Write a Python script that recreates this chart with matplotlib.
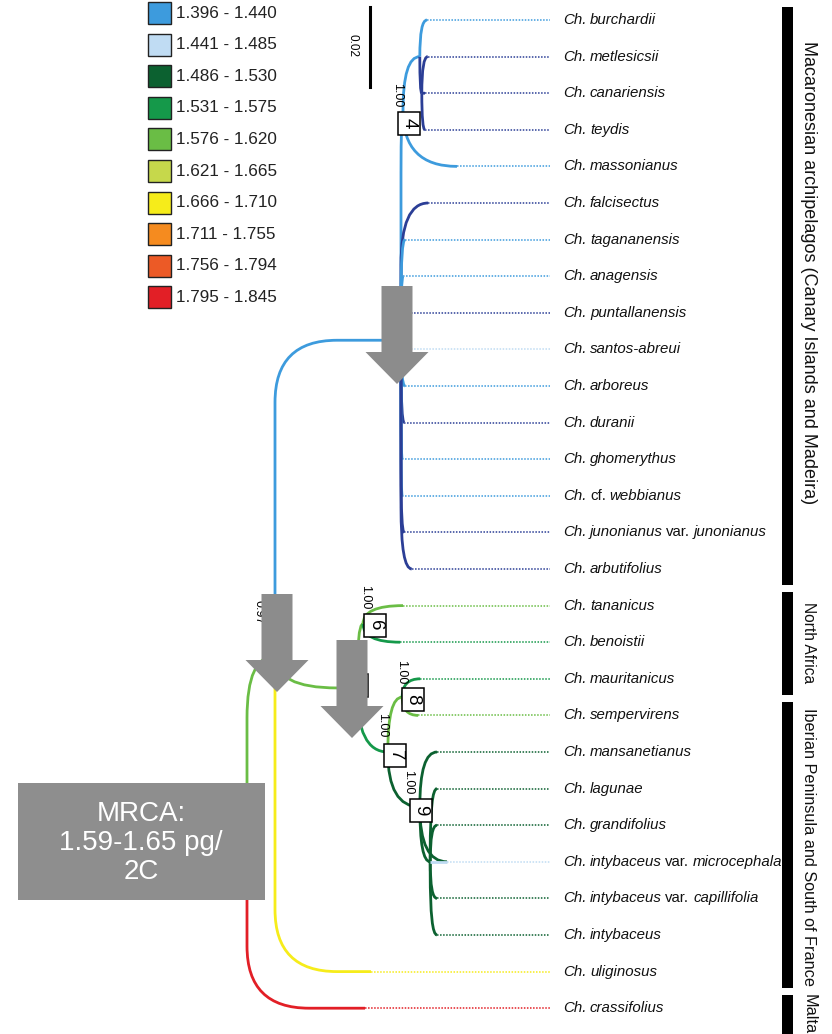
import matplotlib
matplotlib.use('Agg')
import matplotlib.pyplot as plt
from matplotlib.path import Path
from matplotlib.patches import PathPatch, Rectangle, Polygon

# ---- colour classes (genome size, pg/2C)
legend_labels = ['1.396 - 1.440', '1.441 - 1.485', '1.486 - 1.530', '1.531 - 1.575',
                 '1.576 - 1.620', '1.621 - 1.665', '1.666 - 1.710', '1.711 - 1.755',
                 '1.756 - 1.794', '1.795 - 1.845']
legend_colors = ['#3d9bdd', '#c0dcf3', '#0c6130', '#15994a', '#6abd45',
                 '#c6d84b', '#f6ec1a', '#f58b1f', '#ec5a26', '#e21f26']
NAVY = '#2b3e96'
BLUE, LBLUE, DKGREEN, GREEN, LGREEN = legend_colors[:5]
YELLOW, RED = legend_colors[6], legend_colors[9]

# ---- tips, top to bottom
tip_labels = ['Ch. burchardii', 'Ch. metlesicsii', 'Ch. canariensis', 'Ch. teydis',
              'Ch. massonianus', 'Ch. falcisectus', 'Ch. tagananensis', 'Ch. anagensis',
              'Ch. puntallanensis', 'Ch. santos-abreui', 'Ch. arboreus', 'Ch. duranii',
              'Ch. ghomerythus', 'Ch. cf. webbianus', 'Ch. junonianus var. junonianus',
              'Ch. arbutifolius', 'Ch. tananicus', 'Ch. benoistii', 'Ch. mauritanicus',
              'Ch. sempervirens', 'Ch. mansanetianus', 'Ch. lagunae', 'Ch. grandifolius',
              'Ch. intybaceus var. microcephala', 'Ch. intybaceus var. capillifolia',
              'Ch. intybaceus', 'Ch. uliginosus', 'Ch. crassifolius']
tip_parent = ['n4a', 'd4', 'd4', 'd4', 'n4', 'mac', 'mac', 'mac', 'mac', 'mac', 'mac',
              'mac', 'mac', 'mac', 'mac', 'mac', 'n6', 'n6', 'n8', 'n8', 'n9', 'n9b',
              'n9b', 'n9', 'n9b', 'n9b', 'A', 'root']
tip_depth = [0.0450, 0.0452, 0.0445, 0.0445, 0.0525, 0.0453, 0.0395, 0.0390, 0.0410,
             0.0410, 0.0395, 0.0393, 0.0388, 0.0388, 0.0393, 0.0412, 0.0390, 0.0383,
             0.0433, 0.0428, 0.0475, 0.0475, 0.0475, 0.0500, 0.0475, 0.0475, 0.0310,
             0.0295]
tip_color = [BLUE, NAVY, NAVY, NAVY, BLUE, NAVY, BLUE, BLUE, NAVY, LBLUE, BLUE, NAVY,
             BLUE, BLUE, NAVY, NAVY, LGREEN, GREEN, GREEN, LGREEN, DKGREEN, DKGREEN,
             DKGREEN, LBLUE, DKGREEN, DKGREEN, YELLOW, RED]
# colour change along a branch (depth where the tip colour starts)
colour_shift = {'Ch. intybaceus var. microcephala': 0.0458}

# ---- internal nodes
node_names = ['root', 'A', 'mac', 'n4', 'n4a', 'd4', 'B', 'n6', 'n7', 'n8', 'n9', 'n9b']
node_parent = [None, 'root', 'A', 'mac', 'n4', 'n4a', 'A', 'B', 'B', 'n7', 'n7', 'n9']
node_depth = [0.0, 0.0070, 0.0385, 0.0390, 0.0432, 0.0437, 0.0275, 0.0290, 0.0352,
              0.0388, 0.0432, 0.0458]
node_color = [None, LGREEN, BLUE, BLUE, BLUE, NAVY, LGREEN, LGREEN, GREEN, LGREEN,
              DKGREEN, DKGREEN]

regions = ['Macaronesian archipelagos (Canary Islands and Madeira)', 'North Africa',
           'Iberian Peninsula and South of France', 'Malta']
region_span = [(-0.36, 15.45), (15.64, 18.45), (18.64, 26.45), (26.64, 27.8)]
region_label_y = [6.9, 17.0, 22.6, 27.15]
region_size = [13, 11.2, 11.7, 11.7]

# ---- page geometry
W, H = 832, 1034
ROOT_PX, PX_X, TOP_PX, PX_Y = 247, 4000.0, 20, 36.6
FONT = 'Liberation Sans'

fig = plt.figure(figsize=(W / 100, H / 100), dpi=100)
ax = fig.add_axes([0, 0, 1, 1])
ax.set_xlim(-ROOT_PX / PX_X, (W - ROOT_PX) / PX_X)
ax.set_ylim((H - TOP_PX) / PX_Y, -TOP_PX / PX_Y)
ax.axis('off')

# y of nodes from their children
ypos = {}
children = {n: [] for n in node_names}
for n, p in zip(node_names, node_parent):
    if p:
        children[p].append(n)
for i, p in enumerate(tip_parent):
    children[p].append(i)
    ypos[i] = i


def node_y(n):
    if n in ypos:
        return ypos[n]
    ys = [node_y(c) for c in children[n]]
    ypos[n] = (min(ys) + max(ys)) / 2
    return ypos[n]


for n in node_names:
    node_y(n)
depth = dict(zip(node_names, node_depth))


def branch(x0, y0, x1, y1, color, r=62):
    rx = min(r / PX_X, x1 - x0)
    ry = min(r / PX_Y, abs(y1 - y0))
    s = 1 if y1 >= y0 else -1
    verts = [(x0, y0), (x0, y1 - s * ry), (x0, y1), (x0 + rx, y1), (x1, y1)]
    codes = [Path.MOVETO, Path.LINETO, Path.CURVE3, Path.CURVE3, Path.LINETO]
    ax.add_patch(PathPatch(Path(verts, codes), fc='none', ec=color, lw=2.0,
                           capstyle='butt', zorder=3))


for n, p, c in zip(node_names, node_parent, node_color):
    if p:
        branch(depth[p], ypos[p], depth[n], ypos[n], c)

DOT_END, LABEL_X = 0.0757, 0.0790
for i, p in enumerate(tip_parent):
    c = tip_color[i]
    shift = colour_shift.get(tip_labels[i])
    branch(depth[p], ypos[p], tip_depth[i], i, DKGREEN if shift else c)
    if shift:
        ax.plot([shift, tip_depth[i]], [i, i], color=c, lw=2.0, solid_capstyle='butt', zorder=4)
    ax.plot([tip_depth[i], DOT_END], [i, i], color=c, lw=1.1, ls=(0, (1.0, 1.0)), zorder=2)

# taxon labels, italic except var./cf.
renderer = fig.canvas.get_renderer()
inv = ax.transData.inverted()
for i, name in enumerate(tip_labels):
    x = LABEL_X
    for w in name.split():
        t = ax.text(x, i, w, fontsize=10.8, family=FONT, va='center', ha='left',
                    style='normal' if w in ('var.', 'cf.') else 'italic', color='#111111')
        bb = t.get_window_extent(renderer)
        x = inv.transform((bb.x1 + 3.6, bb.y0))[0]

# region bars
BAR_X, BAR_W, REG_X = 0.13375, 0.0028, 0.1405
for name, (y0, y1), ly, fs in zip(regions, region_span, region_label_y, region_size):
    ax.add_patch(Rectangle((BAR_X, y0), BAR_W, y1 - y0, color='black', lw=0))
    ax.text(REG_X, ly, name, rotation=270, fontsize=fs, family=FONT,
            ha='center', va='center', color='#111111')

# ---- overlay in page pixels: legend, scale, support boxes, arrows
ov = fig.add_axes([0, 0, 1, 1])
ov.set_xlim(0, W)
ov.set_ylim(H, 0)
ov.axis('off')

for k, (lab, col) in enumerate(zip(legend_labels, legend_colors)):
    yc = 13 + k * 31.6
    ov.add_patch(Rectangle((148, yc - 11), 23, 22, fc=col, ec='#222222', lw=1.0))
    ov.text(176, yc, lab, fontsize=12.3, family=FONT, va='center', ha='left', color='#222222')

# scale bar
ov.plot([370, 370], [7, 87], color='black', lw=2.2)
ov.text(353, 46, '0.02', rotation=270, fontsize=8.5, family=FONT, ha='center', va='center')

# support values and node boxes
supports = [(397, 95), (365, 597), (401, 672), (382, 725), (408, 782)]
for x, y in supports:
    ov.text(x, y, '1.00', rotation=270, fontsize=9, family=FONT, ha='center', va='center', zorder=6)
ov.text(259, 612, '0.97', rotation=270, fontsize=9, family=FONT, ha='center', va='center', zorder=5)

boxes = [('4', 409, 123), ('6', 375, 625), ('8', 413, 699), ('7', 395, 755), ('9', 421, 810),
         ('5', 357, 685)]
for lab, x, y in boxes:
    ov.add_patch(Rectangle((x - 11, y - 11.5), 22, 23, fc='white', ec='black', lw=1.1, zorder=5))
    ov.text(x, y, lab, rotation=270, fontsize=13.5, family=FONT,
            ha='center', va='center', zorder=5)

# big grey arrows
arrow_tips = [(277, 692), (352, 738), (397, 384)]
for tx, ty in arrow_tips:
    pts = [(tx - 15.5, ty - 98), (tx + 15.5, ty - 98), (tx + 15.5, ty - 32), (tx + 31.5, ty - 32),
           (tx, ty), (tx - 31.5, ty - 32), (tx - 15.5, ty - 32)]
    ov.add_patch(Polygon(pts, closed=True, fc='#8c8c8c', ec='none', zorder=8))

# MRCA box
ov.add_patch(Rectangle((18, 783), 247, 117, fc='#8e8e8e', ec='none', zorder=8))
ov.text(141, 843, 'MRCA:\n1.59-1.65 pg/\n2C', fontsize=20, family=FONT,
        color='white', ha='center', va='center', linespacing=1.15, zorder=9)

fig.savefig('out.png', dpi=100)
